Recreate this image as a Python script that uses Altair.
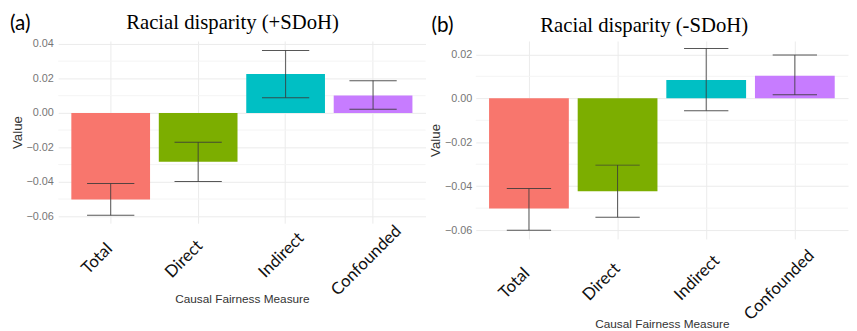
import altair as alt
import pandas as pd

categories = ["Total", "Direct", "Indirect", "Confounded"]
bar_colors = ["#F8766D", "#7CAE00", "#00BFC4", "#C77CFF"]
titles = ["Racial disparity (+SDoH)", "Racial disparity (-SDoH)"]
tags = ["(a)", "(b)"]

# Panel (a): +SDoH
a_value = [-0.0503, -0.0284, 0.0225, 0.0101]
a_lo = [-0.0594, -0.0398, 0.0088, 0.0021]
a_hi = [-0.0410, -0.0170, 0.0362, 0.0187]
a_ticks = [-0.06, -0.04, -0.02, 0.00, 0.02, 0.04]
a_minor = [-0.05, -0.03, -0.01, 0.01, 0.03]

# Panel (b): -SDoH
b_value = [-0.0502, -0.0423, 0.0083, 0.0103]
b_lo = [-0.0600, -0.0541, -0.0056, 0.0016]
b_hi = [-0.0410, -0.0304, 0.0227, 0.0197]
b_ticks = [-0.06, -0.04, -0.02, 0.00, 0.02]
b_minor = [-0.05, -0.03, -0.01, 0.01]


def per_label(values):
    return {
        "condition": [
            {"test": f"datum.value === '{c}'", "value": v}
            for c, v in zip(categories, values)
        ],
        "value": 0,
    }


def panel(vals, lo, hi, ticks, minor, domain, title, tag, width, height,
          title_x, title_y, tag_x, tag_y, lab_off, lab_pad, cap,
          ylab_pad, ytitle_pad, xtitle_pad):
    df = pd.DataFrame({"measure": categories, "value": vals, "lo": lo, "hi": hi})
    xscale = alt.Scale(domain=categories, paddingInner=0.1, paddingOuter=0.15)
    yscale = alt.Scale(domain=domain, nice=False, zero=False)
    xaxis = alt.Axis(
        title="Causal Fairness Measure", labelAngle=-45, labelAlign="right",
        labelBaseline="middle", labelFont="Lato", labelFontSize=17,
        labelColor="#111111", labelPadding=per_label(lab_pad),
        labelOffset=per_label(lab_off), bandPosition=0.5,
        grid=True, gridColor="#ebebeb", ticks=False, domain=False,
        labelOverlap=False, labelBound=False,
        titleFont="Liberation Sans", titleFontSize=12, titleColor="#333333",
        titleFontWeight="normal", titlePadding=xtitle_pad,
    )
    yaxis = alt.Axis(
        values=ticks, format=".2f", title="Value", grid=True, gridColor="#ebebeb",
        ticks=False, domain=False, labelFont="Liberation Sans", labelFontSize=11,
        labelColor="#767676", labelPadding=ylab_pad, labelOverlap=False,
        titleFont="Liberation Sans", titleFontSize=13.5, titleColor="#333333",
        titleFontWeight="normal", titlePadding=ytitle_pad,
    )
    x = alt.X("measure:N", sort=categories, scale=xscale, axis=xaxis)
    minor_grid = alt.Chart(pd.DataFrame({"v": minor})).mark_rule(
        color="#f4f4f4", strokeWidth=1
    ).encode(y=alt.Y("v:Q", scale=yscale, axis=yaxis))
    bars = alt.Chart(df).mark_bar().encode(
        x=x,
        y=alt.Y("value:Q", scale=yscale, axis=yaxis),
        y2=alt.datum(0),
        color=alt.Color("measure:N", scale=alt.Scale(domain=categories, range=bar_colors), legend=None),
    )
    err = alt.Chart(df).mark_rule(color="#3a3a3a", strokeWidth=1, opacity=0.85).encode(
        x=x,
        y=alt.Y("lo:Q", scale=yscale, axis=yaxis),
        y2="hi:Q",
    )
    cap_lo = alt.Chart(df).mark_tick(color="#3a3a3a", size=cap, thickness=1, opacity=0.85, orient="horizontal").encode(
        x=x,
        y=alt.Y("lo:Q", scale=yscale, axis=yaxis),
    )
    cap_hi = alt.Chart(df).mark_tick(color="#3a3a3a", size=cap, thickness=1, opacity=0.85, orient="horizontal").encode(
        x=x,
        y=alt.Y("hi:Q", scale=yscale, axis=yaxis),
    )
    tag_layer = alt.Chart(pd.DataFrame({"t": [tag]})).mark_text(
        align="left", baseline="alphabetic", font="Lato", fontSize=21, color="#000000"
    ).encode(x=alt.value(tag_x), y=alt.value(tag_y), text="t:N")
    title_layer = alt.Chart(pd.DataFrame({"t": [title]})).mark_text(
        align="center", baseline="alphabetic", font="Liberation Serif", fontSize=21, color="#000000"
    ).encode(x=alt.value(title_x), y=alt.value(title_y), text="t:N")
    return alt.layer(minor_grid, bars, err, cap_lo, cap_hi, tag_layer, title_layer).properties(
        width=width, height=height,
    )


pa = panel(a_value, a_lo, a_hi, a_ticks, a_minor, [-0.064, 0.0417],
           titles[0], tags[0], 373, 185,
           177, -12, -49, -11,
           [-1, 2, 16, 26], [23, 20, 12, 5], 48, 5, 1, -4)
pb = panel(b_value, b_lo, b_hi, b_ticks, b_minor, [-0.064, 0.0261],
           titles[1], tags[1], 378, 201,
           171, -9, -45, -9.5,
           [-2, 0, 11, 17], [32, 27, 19, 14], 45, 4, 2, -4)

chart = alt.hconcat(pa, pb, spacing=2).properties(
    padding={"left": 2, "top": 2, "right": 0, "bottom": 0},
    background="white",
).configure_view(stroke=None)

chart.save("out.html", embed_options={"renderer": "svg", "actions": False})
